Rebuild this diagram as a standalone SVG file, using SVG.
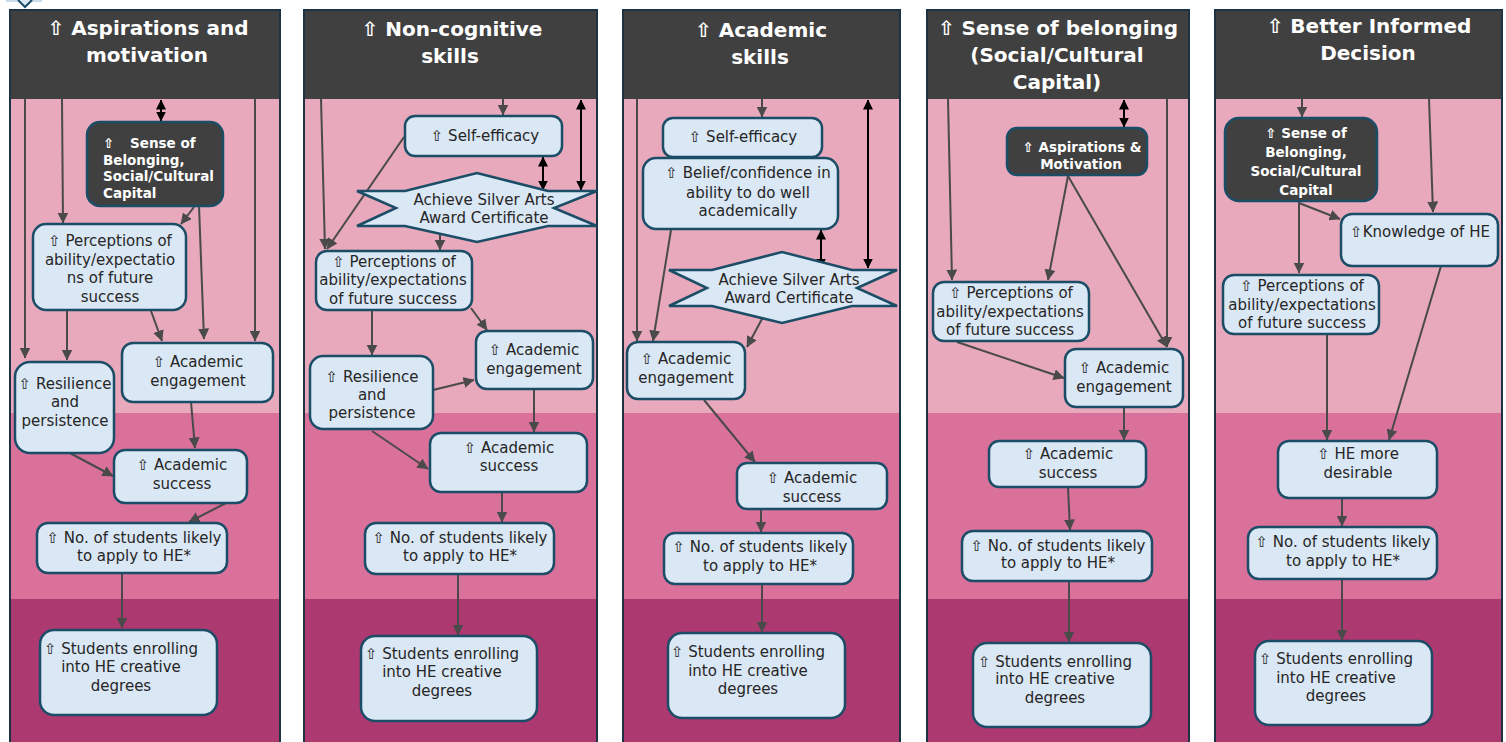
<svg xmlns="http://www.w3.org/2000/svg" width="1506" height="742" viewBox="0 0 1506 742">
<style>
.bg{fill:#ffffff}
.hdr{fill:#404040}
.b1{fill:#e7a9bb}
.b2{fill:#d9719b}
.b3{fill:#ad3971}
.col{fill:none;stroke:#1d3344;stroke-width:2}
.n{fill:#dae7f5;stroke:#1b4d66;stroke-width:2.5}
.d{fill:#404040;stroke:#1b4d66;stroke-width:2.5}
.t{font-family:"DejaVu Sans","Liberation Sans",sans-serif;font-size:15px;fill:#262626;text-anchor:middle}
.tw{font-family:"DejaVu Sans","Liberation Sans",sans-serif;font-weight:bold;font-size:13.5px;fill:#ffffff;text-anchor:middle}
.tl{text-anchor:start}
.h{font-family:"DejaVu Sans","Liberation Sans",sans-serif;font-weight:bold;font-size:20px;fill:#ffffff;text-anchor:middle}
.c{fill:none;stroke:#4a4a4a;stroke-width:2;marker-end:url(#a)}
.k{fill:none;stroke:#000000;stroke-width:2;marker-start:url(#k);marker-end:url(#k)}
</style>
<defs>
<marker id="a" viewBox="0 0 10 10" refX="9.5" refY="5" markerWidth="11" markerHeight="11" markerUnits="userSpaceOnUse" orient="auto"><path d="M0,0 L10,5 L0,10 z" fill="#4a4a4a"/></marker>
<marker id="k" viewBox="0 0 10 10" refX="9.5" refY="5" markerWidth="10" markerHeight="10" markerUnits="userSpaceOnUse" orient="auto-start-reverse"><path d="M0,0 L10,5 L0,10 z" fill="#000000"/></marker>
</defs>
<rect class="bg" x="0" y="0" width="1506" height="742"/>
<path d="M6 1 L42 1" stroke="#c9dcec" stroke-width="2" fill="none"/>
<path d="M18 0 L25 7 L32 0" stroke="#1b4d66" stroke-width="2" fill="#dae7f5"/>

<g id="column1">
<rect class="b1" x="10" y="99" width="270" height="314"/>
<rect class="b2" x="10" y="413" width="270" height="186"/>
<rect class="b3" x="10" y="599" width="270" height="145"/>
<rect class="hdr" x="10" y="10" width="270" height="89"/>
<rect class="col" x="10" y="10" width="270" height="740"/>
<text class="h" x="148" y="35">⇧ Aspirations and</text>
<text class="h" x="147" y="62">motivation</text>
</g>
<g id="column2">
<rect class="b1" x="304" y="99" width="293" height="314"/>
<rect class="b2" x="304" y="413" width="293" height="186"/>
<rect class="b3" x="304" y="599" width="293" height="145"/>
<rect class="hdr" x="304" y="10" width="293" height="89"/>
<rect class="col" x="304" y="10" width="293" height="740"/>
<text class="h" x="452" y="36">⇧ Non-cognitive</text>
<text class="h" x="450" y="63">skills</text>
</g>
<g id="column3">
<rect class="b1" x="623" y="99" width="277" height="314"/>
<rect class="b2" x="623" y="413" width="277" height="186"/>
<rect class="b3" x="623" y="599" width="277" height="145"/>
<rect class="hdr" x="623" y="10" width="277" height="89"/>
<rect class="col" x="623" y="10" width="277" height="740"/>
<text class="h" x="761" y="37">⇧ Academic</text>
<text class="h" x="760" y="64">skills</text>
</g>
<g id="column4">
<rect class="b1" x="927" y="99" width="262" height="314"/>
<rect class="b2" x="927" y="413" width="262" height="186"/>
<rect class="b3" x="927" y="599" width="262" height="145"/>
<rect class="hdr" x="927" y="10" width="262" height="89"/>
<rect class="col" x="927" y="10" width="262" height="740"/>
<text class="h" x="1058" y="35">⇧ Sense of belonging</text>
<text class="h" x="1057" y="62">(Social/Cultural</text>
<text class="h" x="1057" y="89">Capital)</text>
</g>
<g id="column5">
<rect class="b1" x="1215" y="99" width="287" height="314"/>
<rect class="b2" x="1215" y="413" width="287" height="186"/>
<rect class="b3" x="1215" y="599" width="287" height="145"/>
<rect class="hdr" x="1215" y="10" width="287" height="89"/>
<rect class="col" x="1215" y="10" width="287" height="740"/>
<text class="h" x="1369" y="33">⇧ Better Informed</text>
<text class="h" x="1368" y="60">Decision</text>
</g>

<g id="connectors">
<path class="c" d="M25 99 L25 358"/>
<path class="c" d="M62 99 L63 223"/>
<path class="c" d="M194 207 L181 224"/>
<path class="c" d="M199 206 L204 339"/>
<path class="c" d="M255 99 L255 341"/>
<path class="c" d="M67 311 L67 360"/>
<path class="c" d="M151 311 L162 341"/>
<path class="c" d="M191 402 L195 448"/>
<path class="c" d="M68 452 L113 476"/>
<path class="c" d="M228 502 L189 522"/>
<path class="c" d="M122 573 L122 628"/>
<path class="k" d="M161 100 L161 121"/>

<path class="c" d="M503 99 L503 115"/>
<path class="k" d="M543 157 L543 190"/>
<path class="k" d="M581 100 L581 190"/>
<path class="c" d="M321 99 L325 249"/>
<path class="c" d="M404 137 L327 249"/>
<path class="c" d="M440 226 L440 250"/>
<path class="c" d="M372 311 L372 355"/>
<path class="c" d="M471 308 L487 330"/>
<path class="c" d="M433 390 L474 380"/>
<path class="c" d="M534 389 L534 432"/>
<path class="c" d="M372 431 L428 469"/>
<path class="c" d="M502 492 L502 522"/>
<path class="c" d="M458 574 L458 635"/>

<path class="c" d="M762 99 L762 117"/>
<path class="k" d="M821 230 L821 268"/>
<path class="k" d="M868 100 L868 268"/>
<path class="c" d="M637 99 L637 341"/>
<path class="c" d="M671 230 L653 341"/>
<path class="c" d="M763 317 L747 347"/>
<path class="c" d="M704 400 L755 462"/>
<path class="c" d="M761 509 L761 532"/>
<path class="c" d="M762 584 L762 632"/>

<path class="k" d="M1124 100 L1124 127"/>
<path class="c" d="M948 99 L952 280"/>
<path class="c" d="M1068 176 L1048 280"/>
<path class="c" d="M1068 176 L1167 347"/>
<path class="c" d="M1167 99 L1167 347"/>
<path class="c" d="M957 342 L1064 378"/>
<path class="c" d="M1124 407 L1124 440"/>
<path class="c" d="M1068 487 L1070 530"/>
<path class="c" d="M1069 581 L1069 642"/>

<path class="c" d="M1302 99 L1302 117"/>
<path class="c" d="M1429 99 L1433 212"/>
<path class="c" d="M1299 201 L1299 273"/>
<path class="c" d="M1299 203 L1340 219"/>
<path class="c" d="M1327 334 L1327 440"/>
<path class="c" d="M1441 266 L1389 440"/>
<path class="c" d="M1342 498 L1342 526"/>
<path class="c" d="M1342 579 L1342 640"/>
</g>

<!-- column 1 nodes -->
<g id="c1-belonging">
<rect class="d" x="87" y="122" width="136" height="84" rx="13"/>
<text class="tw tl" x="103" y="148">⇧</text>
<text class="tw tl" x="130" y="148">Sense of</text>
<text class="tw tl" x="103" y="165">Belonging,</text>
<text class="tw tl" x="103" y="181">Social/Cultural</text>
<text class="tw tl" x="103" y="198">Capital</text>
</g>
<g id="c1-perceptions">
<rect class="n" x="33" y="224" width="153" height="86" rx="13"/>
<text class="t" x="110" y="246">⇧ Perceptions of</text>
<text class="t" x="110" y="265">ability/expectatio</text>
<text class="t" x="110" y="283">ns of future</text>
<text class="t" x="110" y="302">success</text>
</g>
<g id="c1-engagement">
<rect class="n" x="122" y="343" width="151" height="59" rx="11"/>
<text class="t" x="198" y="367">⇧ Academic</text>
<text class="t" x="198" y="386">engagement</text>
</g>
<g id="c1-resilience">
<rect class="n" x="15" y="362" width="99" height="91" rx="15"/>
<text class="t" x="65" y="389">⇧ Resilience</text>
<text class="t" x="65" y="407">and</text>
<text class="t" x="65" y="426">persistence</text>
</g>
<g id="c1-success">
<rect class="n" x="114" y="450" width="133" height="53" rx="11"/>
<text class="t" x="182" y="470">⇧ Academic</text>
<text class="t" x="182" y="489">success</text>
</g>
<g id="c1-apply">
<rect class="n" x="37" y="523" width="190" height="50" rx="11"/>
<text class="t" x="134" y="543">⇧ No. of students likely</text>
<text class="t" x="134" y="561">to apply to HE*</text>
</g>
<g id="c1-enrolling">
<rect class="n" x="40" y="630" width="177" height="85" rx="14"/>
<text class="t" x="121" y="654">⇧ Students enrolling</text>
<text class="t" x="121" y="672">into HE creative</text>
<text class="t" x="121" y="691">degrees</text>
</g>

<!-- column 2 nodes -->
<g id="c2-selfefficacy">
<rect class="n" x="405" y="116" width="157" height="40" rx="10"/>
<text class="t" x="485" y="141">⇧ Self-efficacy</text>
</g>
<g id="c2-award">
<polygon class="n" points="357,191 405,191 477,173 548,191 597,191 554,208 597,226 548,226 477,242 405,226 357,226 396,208"/>
<text class="t" x="484" y="205">Achieve Silver Arts</text>
<text class="t" x="484" y="223">Award Certificate</text>
</g>
<g id="c2-perceptions">
<rect class="n" x="316" y="251" width="156" height="59" rx="11"/>
<text class="t" x="394" y="267">⇧ Perceptions of</text>
<text class="t" x="393" y="285">ability/expectations</text>
<text class="t" x="393" y="304">of future success</text>
</g>
<g id="c2-engagement">
<rect class="n" x="476" y="331" width="117" height="58" rx="11"/>
<text class="t" x="534" y="355">⇧ Academic</text>
<text class="t" x="534" y="374">engagement</text>
</g>
<g id="c2-resilience">
<rect class="n" x="310" y="356" width="123" height="73" rx="13"/>
<text class="t" x="372" y="382">⇧ Resilience</text>
<text class="t" x="372" y="400">and</text>
<text class="t" x="372" y="418">persistence</text>
</g>
<g id="c2-success">
<rect class="n" x="430" y="433" width="157" height="59" rx="11"/>
<text class="t" x="509" y="453">⇧ Academic</text>
<text class="t" x="509" y="471">success</text>
</g>
<g id="c2-apply">
<rect class="n" x="365" y="523" width="189" height="51" rx="11"/>
<text class="t" x="460" y="543">⇧ No. of students likely</text>
<text class="t" x="460" y="561">to apply to HE*</text>
</g>
<g id="c2-enrolling">
<rect class="n" x="361" y="636" width="176" height="85" rx="14"/>
<text class="t" x="442" y="659">⇧ Students enrolling</text>
<text class="t" x="442" y="677">into HE creative</text>
<text class="t" x="442" y="696">degrees</text>
</g>

<!-- column 3 nodes -->
<g id="c3-selfefficacy">
<rect class="n" x="663" y="118" width="159" height="39" rx="10"/>
<text class="t" x="743" y="142">⇧ Self-efficacy</text>
</g>
<g id="c3-belief">
<rect class="n" x="643" y="158" width="195" height="71" rx="13"/>
<text class="t" x="748" y="178">⇧ Belief/confidence in</text>
<text class="t" x="748" y="198">ability to do well</text>
<text class="t" x="748" y="216">academically</text>
</g>
<g id="c3-award">
<polygon class="n" points="669,270 712,270 782,252 852,270 897,270 857,288 897,306 852,306 782,323 712,306 669,306 707,288"/>
<text class="t" x="789" y="285">Achieve Silver Arts</text>
<text class="t" x="789" y="303">Award Certificate</text>
</g>
<g id="c3-engagement">
<rect class="n" x="627" y="342" width="118" height="57" rx="11"/>
<text class="t" x="686" y="364">⇧ Academic</text>
<text class="t" x="686" y="383">engagement</text>
</g>
<g id="c3-success">
<rect class="n" x="737" y="463" width="150" height="46" rx="10"/>
<text class="t" x="812" y="483">⇧ Academic</text>
<text class="t" x="812" y="502">success</text>
</g>
<g id="c3-apply">
<rect class="n" x="664" y="533" width="189" height="51" rx="11"/>
<text class="t" x="760" y="552">⇧ No. of students likely</text>
<text class="t" x="760" y="571">to apply to HE*</text>
</g>
<g id="c3-enrolling">
<rect class="n" x="668" y="633" width="177" height="85" rx="14"/>
<text class="t" x="748" y="657">⇧ Students enrolling</text>
<text class="t" x="748" y="676">into HE creative</text>
<text class="t" x="748" y="694">degrees</text>
</g>

<!-- column 4 nodes -->
<g id="c4-aspirations">
<rect class="d" x="1007" y="128" width="140" height="47" rx="10"/>
<text class="tw" x="1082" y="152">⇧ Aspirations &amp;</text>
<text class="tw" x="1081" y="169">Motivation</text>
</g>
<g id="c4-perceptions">
<rect class="n" x="933" y="282" width="156" height="59" rx="11"/>
<text class="t" x="1011" y="298">⇧ Perceptions of</text>
<text class="t" x="1010" y="317">ability/expectations</text>
<text class="t" x="1010" y="335">of future success</text>
</g>
<g id="c4-engagement">
<rect class="n" x="1065" y="349" width="118" height="58" rx="11"/>
<text class="t" x="1124" y="373">⇧ Academic</text>
<text class="t" x="1124" y="392">engagement</text>
</g>
<g id="c4-success">
<rect class="n" x="989" y="441" width="157" height="46" rx="10"/>
<text class="t" x="1068" y="459">⇧ Academic</text>
<text class="t" x="1068" y="478">success</text>
</g>
<g id="c4-apply">
<rect class="n" x="962" y="531" width="190" height="50" rx="11"/>
<text class="t" x="1058" y="551">⇧ No. of students likely</text>
<text class="t" x="1058" y="568">to apply to HE*</text>
</g>
<g id="c4-enrolling">
<rect class="n" x="973" y="643" width="178" height="84" rx="14"/>
<text class="t" x="1055" y="667">⇧ Students enrolling</text>
<text class="t" x="1055" y="684">into HE creative</text>
<text class="t" x="1055" y="703">degrees</text>
</g>

<!-- column 5 nodes -->
<g id="c5-belonging">
<rect class="d" x="1225" y="118" width="152" height="83" rx="14"/>
<text class="tw" x="1306" y="138">⇧ Sense of</text>
<text class="tw" x="1306" y="157">Belonging,</text>
<text class="tw" x="1306" y="176">Social/Cultural</text>
<text class="tw" x="1306" y="195">Capital</text>
</g>
<g id="c5-knowledge">
<rect class="n" x="1341" y="214" width="157" height="52" rx="11"/>
<text class="t" x="1420" y="237">⇧Knowledge of HE</text>
</g>
<g id="c5-perceptions">
<rect class="n" x="1223" y="275" width="156" height="59" rx="11"/>
<text class="t" x="1302" y="291">⇧ Perceptions of</text>
<text class="t" x="1302" y="310">ability/expectations</text>
<text class="t" x="1302" y="328">of future success</text>
</g>
<g id="c5-desirable">
<rect class="n" x="1278" y="441" width="159" height="57" rx="11"/>
<text class="t" x="1358" y="459">⇧ HE more</text>
<text class="t" x="1358" y="478">desirable</text>
</g>
<g id="c5-apply">
<rect class="n" x="1248" y="527" width="189" height="52" rx="11"/>
<text class="t" x="1343" y="547">⇧ No. of students likely</text>
<text class="t" x="1343" y="566">to apply to HE*</text>
</g>
<g id="c5-enrolling">
<rect class="n" x="1255" y="641" width="177" height="84" rx="14"/>
<text class="t" x="1336" y="664">⇧ Students enrolling</text>
<text class="t" x="1336" y="683">into HE creative</text>
<text class="t" x="1336" y="701">degrees</text>
</g>
</svg>
